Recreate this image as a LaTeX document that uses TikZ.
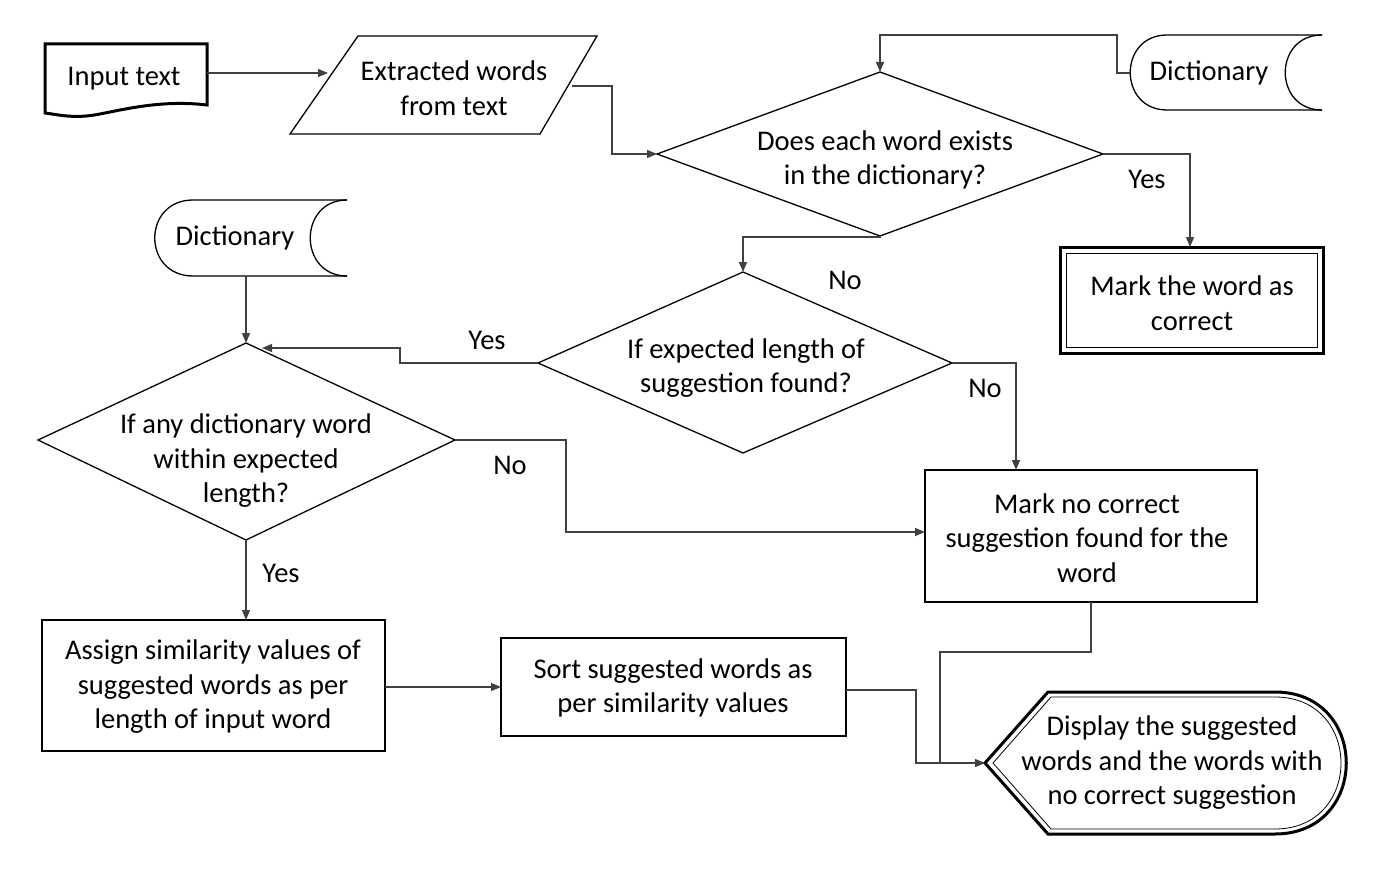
\documentclass[tikz,border=0pt]{standalone}
\usepackage{fontspec}
\setmainfont{Carlito}
\usetikzlibrary{arrows.meta}
\begin{document}
\begin{tikzpicture}[x=1pt,y=-1pt,
  shp/.style={draw=black,line width=1.3pt},
  txt/.style={align=center,font=\fontsize{28.5}{34.5}\selectfont},
  lbl/.style={font=\fontsize{28.5}{30}\selectfont},
  con/.style={draw=black!75,line width=1.2pt,-{Triangle[length=10pt,width=8pt]}},
  conn/.style={draw=black!75,line width=1.2pt}]
\useasboundingbox (0,0) rectangle (1387,880);
% Input text
\draw[line width=3pt] (45,44) -- (207,44) -- (207,105) .. controls (165,100) and (130,108) .. (100,114) .. controls (75,119) and (60,115) .. (45,113) -- cycle;
\node[txt] (inp) at (124,79) {Input text};
\coordinate (inpR) at (207,73);
% Parallelogram
\draw[shp] (358,36) -- (597,36) -- (540,134) -- (290,134) -- cycle;
\node[txt] (ext) at (454,88) {Extracted words\\from text};
\coordinate (extL) at (328,73);
\coordinate (extR) at (572,86);
% Diamond 1
\draw[shp] (657,154) -- (880,72) -- (1103,154) -- (880,236) -- cycle;
\node[txt] (d1) at (885,160) {Does each word exists\\in the dictionary?};
\coordinate (d1L) at (657,154); \coordinate (d1T) at (880,72);
\coordinate (d1R) at (1103,154); \coordinate (d1B) at (880,236);
% Dictionary 1
\draw[shp] (1322,35) -- (1167,35) .. controls (1118,35) and (1118,110) .. (1167,110) -- (1322,110);
\draw[shp] (1322,35) .. controls (1273,35) and (1273,110) .. (1322,110);
\node[txt] (dic1) at (1209,73) {Dictionary};
\coordinate (dic1L) at (1130,73);
% Mark correct
\draw[line width=3pt] (1060,247) rectangle (1323,353);
\draw[line width=1pt] (1066,253) rectangle (1317,347);
\node[txt] (mc) at (1192,303) {Mark the word as\\correct};
\coordinate (mcT) at (1190,247);
% Diamond 2
\draw[shp] (538,363) -- (743,272) -- (952,363) -- (743,453) -- cycle;
\node[txt] (d2) at (746,368) {If expected length of\\suggestion found?};
\coordinate (d2L) at (538,363); \coordinate (d2T) at (743,272); \coordinate (d2R) at (952,363);
% Dictionary 2
\draw[shp] (347,200) -- (193,200) .. controls (142,200) and (142,276) .. (193,276) -- (347,276);
\draw[shp] (347,200) .. controls (298,200) and (298,276) .. (347,276);
\node[txt] (dic2) at (235,238) {Dictionary};
\coordinate (dic2B) at (246,276);
% Diamond 3
\draw[shp] (38,440) -- (246,343) -- (455,440) -- (246,540) -- cycle;
\node[txt] (d3) at (246,461) {If any dictionary word\\within expected\\length?};
\coordinate (d3T) at (246,343); \coordinate (d3E) at (262,348);
\coordinate (d3R) at (455,440); \coordinate (d3B) at (246,540);
% Mark no
\draw[shp] (925,470) rectangle (1257,602);
\node[txt] (mn) at (1087,538) {Mark no correct\\suggestion found for the\\word};
\coordinate (mnT) at (1016,470); \coordinate (mnL) at (925,532); \coordinate (mnB) at (1091,602);
% Assign
\draw[shp] (42,620) rectangle (385,751);
\node[txt] (as) at (213,687) {Assign similarity values of\\suggested words as per\\length of input word};
\coordinate (asT) at (246,620); \coordinate (asR) at (385,687);
% Sort
\draw[shp] (501,638) rectangle (846,736);
\node[txt] (so) at (673,688) {Sort suggested words as\\per similarity values};
\coordinate (soL) at (501,687); \coordinate (soR) at (846,690);
% Display
\draw[line width=3pt] (985,763) -- (1048,692) -- (1275,692) .. controls (1370,692) and (1370,834) .. (1275,834) -- (1048,834) -- cycle;
\draw[line width=0.8pt] (993,763) -- (1051,697) -- (1275,697) .. controls (1363,697) and (1363,829) .. (1275,829) -- (1051,829) -- cycle;
\node[txt] (dp) at (1172,763) {Display the suggested\\words and the words with\\no correct suggestion};
\coordinate (dpL) at (985,763);
% Connectors
\draw[con] (inpR) -- (extL);
\draw[con] (extR) -- (612,86) |- (d1L);
\draw[con] (dic1L) -- (1117,73) |- (880,35) -- (d1T);
\draw[con] (d1R) -| (mcT);
\draw[con] (d1B) -- (880,237) -| (d2T);
\draw[con] (d2L) -- (400,363) |- (d3E);
\draw[con] (d2R) -| (mnT);
\draw[con] (dic2B) -- (d3T);
\draw[con] (d3R) -| (566,532) -- (mnL);
\draw[con] (d3B) -- (asT);
\draw[con] (asR) -- (soL);
\draw[con] (soR) -| (916,763) -- (dpL);
\draw[conn] (mnB) |- (940,652) -- (940,763);
% Labels
\node[lbl] at (1147,179) {Yes};
\node[lbl] at (845,280) {No};
\node[lbl] at (487,340) {Yes};
\node[lbl] at (985,388) {No};
\node[lbl] at (510,465) {No};
\node[lbl] at (281,573) {Yes};
\end{tikzpicture}
\end{document}
